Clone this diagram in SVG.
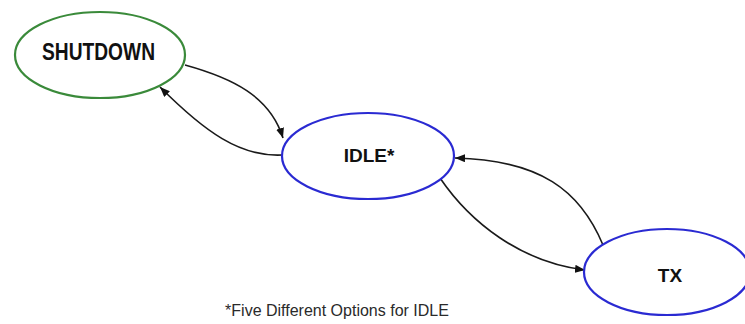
<svg xmlns="http://www.w3.org/2000/svg" width="745" height="324" viewBox="0 0 745 324">
<style>
.node{fill:#fff;stroke-width:2.2}
.green{stroke:#3a8a3a}
.blue{stroke:#2a2ad2}
.lbl{font-family:"Liberation Sans",Arial,sans-serif;font-weight:bold;fill:#111;text-anchor:middle}
.edge{fill:none;stroke:#1a1a1a;stroke-width:1.6;marker-end:url(#ah)}
.note{font-family:"Liberation Sans",Arial,sans-serif;font-size:16px;fill:#2a2a2a;text-anchor:middle}
</style>
<defs>
<marker id="ah" viewBox="0 0 10 8" refX="10" refY="4" markerWidth="10" markerHeight="8" markerUnits="userSpaceOnUse" orient="auto">
<path d="M0,0 L10,4 L0,8 Z" fill="#111"/>
</marker>
</defs>
<rect width="745" height="324" fill="#fff"/>
<g id="connectors">
<path class="edge" d="M185,65 C232,78 270,96 283,138"/>
<path class="edge" d="M282,155 C240,157 205,132 160,87"/>
<path class="edge" d="M603,245 C580,190 540,160 455,158"/>
<path class="edge" d="M440,178 C470,222 520,262 585,270"/>
</g>
<g id="shutdown">
<ellipse class="node green" cx="100" cy="55" rx="85" ry="43"/>
<text class="lbl" x="98.500" y="60" font-size="23" textLength="113" lengthAdjust="spacingAndGlyphs">SHUTDOWN</text>
</g>
<g id="idle">
<ellipse class="node blue" cx="368" cy="156" rx="86" ry="43"/>
<text class="lbl" x="369" y="162" font-size="19">IDLE*</text>
</g>
<g id="tx">
<ellipse class="node blue" cx="667" cy="272" rx="83" ry="43"/>
<text class="lbl" x="670" y="282" font-size="19">TX</text>
</g>
<text class="note" x="337" y="316">*Five Different Options for IDLE</text>
</svg>
